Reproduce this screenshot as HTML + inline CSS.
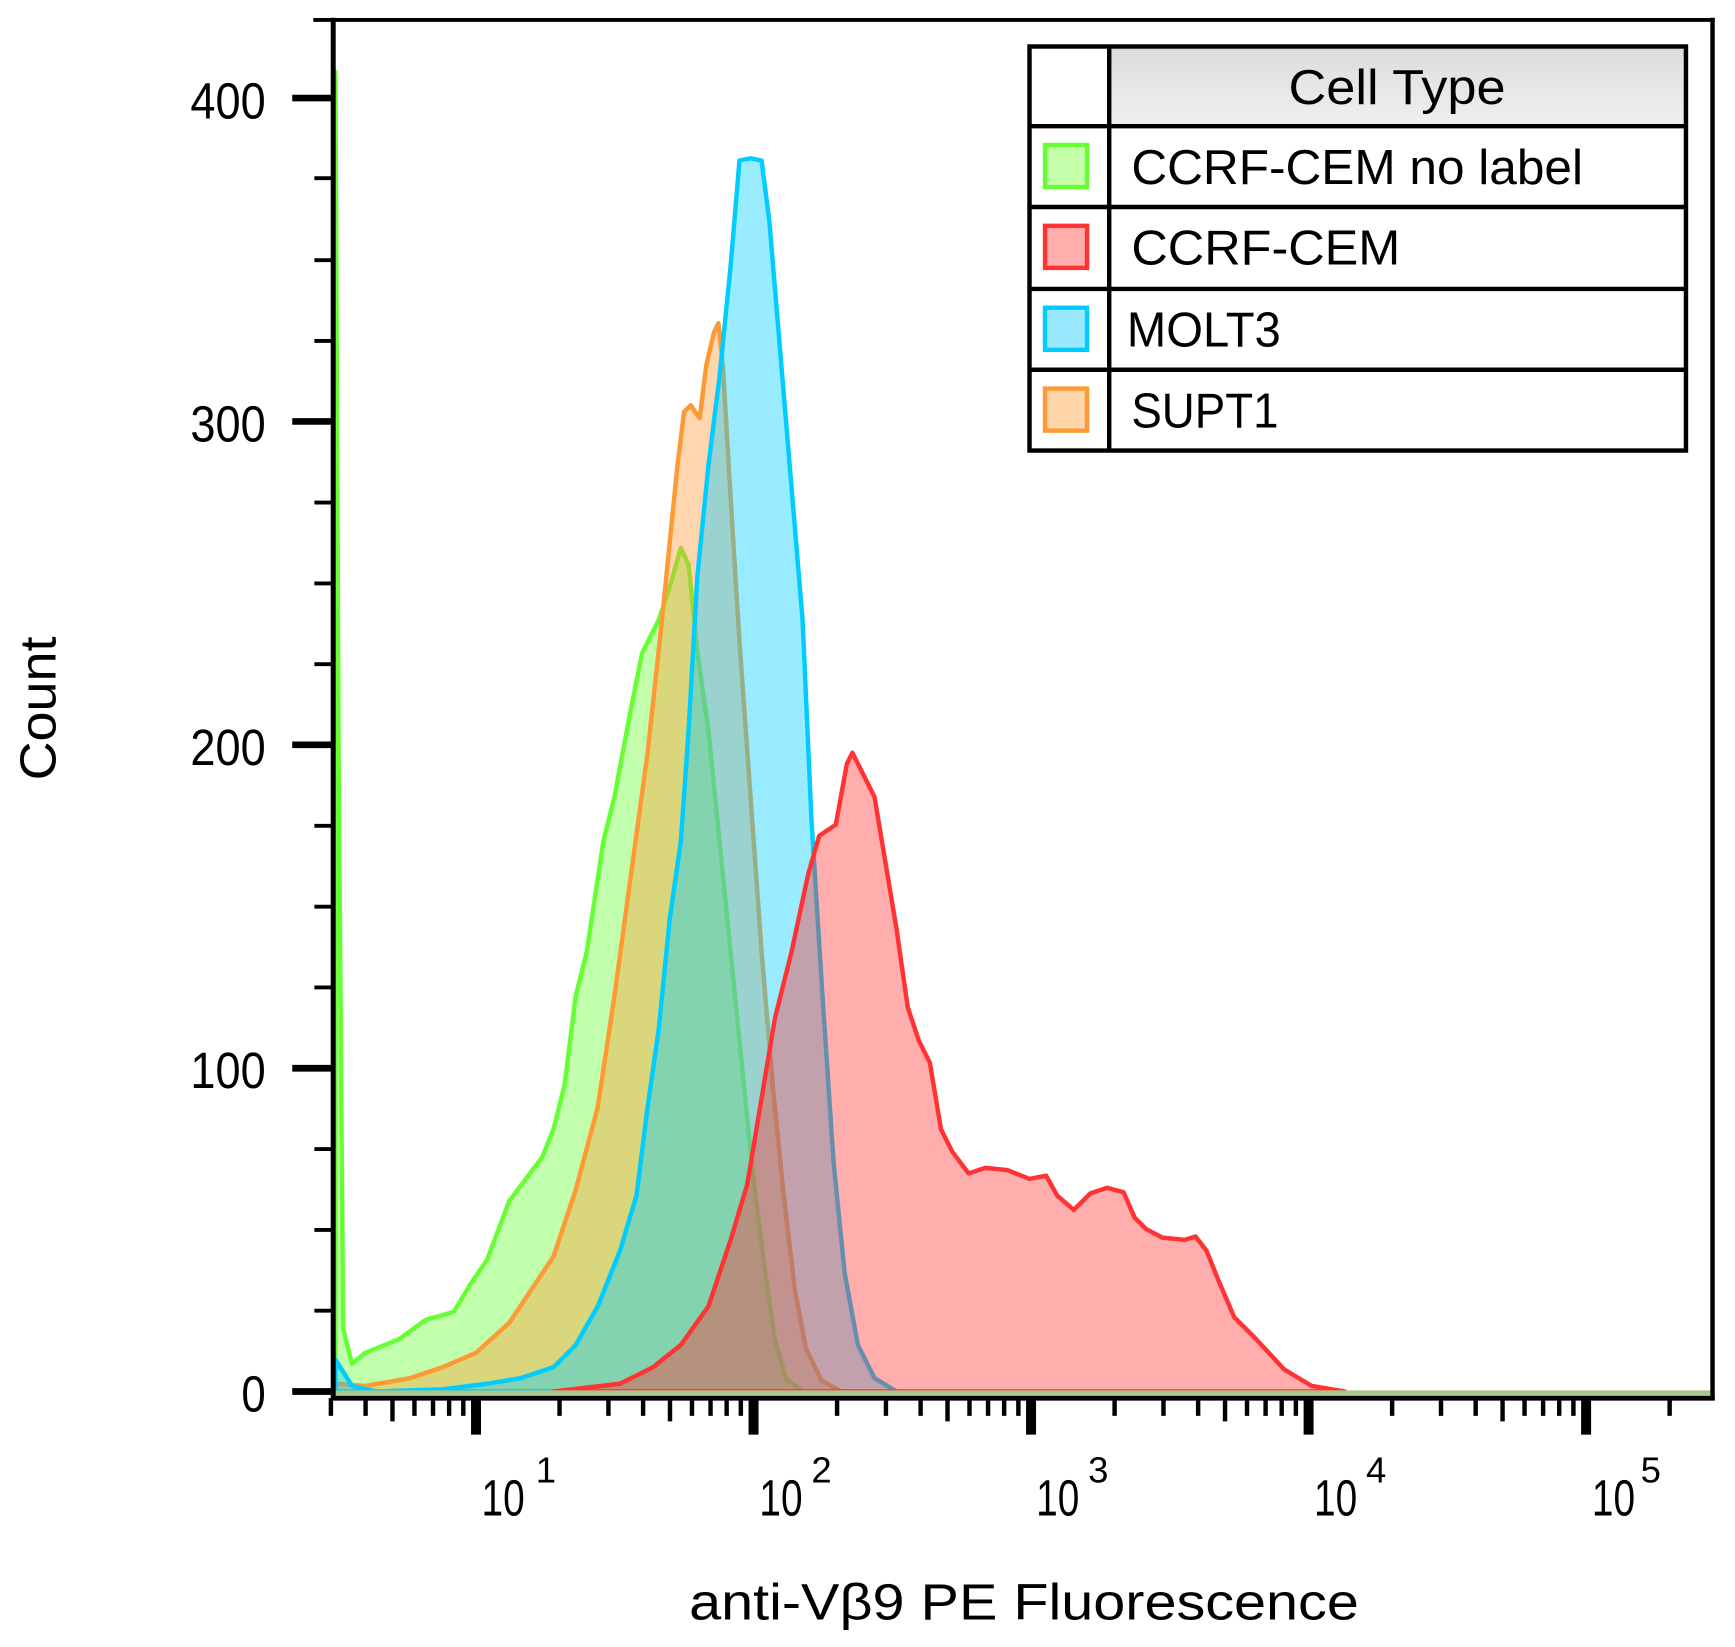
<!DOCTYPE html>
<html><head><meta charset="utf-8"><style>html,body{margin:0;padding:0;background:#fff;}svg{display:block;}</style></head>
<body>
<svg width="1735" height="1647" viewBox="0 0 1735 1647" xmlns="http://www.w3.org/2000/svg">
<g transform="scale(1.107)" font-family="Liberation Sans, Arial, sans-serif">
<!-- curves -->
<g stroke-width="4" stroke-linejoin="round">
<path fill="rgba(102,255,51,0.4)" stroke="#66ff33" d="M303,1257 L303,65 L306,700 L310,1200 L318,1232 L330,1222 L360,1210 L385,1192 L400,1188 L410,1185 L425,1160 L440,1138 L460,1085 L475,1065 L490,1045 L500,1020 L510,980 L520,900 L530,860 L545,760 L555,720 L570,640 L580,590 L595,560 L605,530 L615,495 L622,510 L630,590 L640,660 L650,760 L660,860 L670,960 L680,1060 L690,1140 L700,1210 L710,1245 L725,1257 Z"/>
<path fill="rgba(255,153,51,0.4)" stroke="#ff9933" d="M303,1257 L303,1250 L330,1252 L370,1245 L400,1235 L430,1222 L460,1195 L480,1165 L500,1135 L520,1075 L540,1000 L555,900 L570,790 L585,680 L598,560 L605,490 L612,420 L618,372 L624,366 L632,378 L638,330 L645,300 L649,292 L653,330 L660,450 L668,580 L678,720 L688,860 L698,980 L708,1080 L718,1165 L728,1218 L742,1247 L760,1257 Z"/>
<path fill="rgba(0,204,255,0.4)" stroke="#00ccff" d="M303,1257 L303,1228 L318,1252 L340,1257 L400,1255 L440,1250 L470,1245 L500,1235 L520,1215 L540,1180 L560,1130 L575,1080 L585,1000 L595,930 L605,830 L615,760 L622,660 L630,520 L640,420 L650,340 L660,240 L668,145 L678,143 L688,145 L695,200 L705,320 L715,440 L725,560 L733,740 L743,900 L753,1050 L763,1150 L775,1215 L790,1245 L810,1257 Z"/>
<path fill="rgba(255,51,51,0.4)" stroke="#ff3333" d="M500,1257 L560,1250 L590,1235 L615,1215 L640,1180 L660,1120 L675,1070 L690,980 L700,920 L715,860 L730,790 L740,755 L755,745 L765,690 L770,680 L780,700 L790,720 L800,780 L810,840 L820,910 L830,940 L840,960 L850,1020 L860,1040 L875,1060 L890,1055 L910,1057 L930,1065 L945,1062 L955,1080 L970,1093 L985,1078 L1000,1073 L1015,1077 L1025,1100 L1035,1110 L1050,1118 L1070,1120 L1080,1117 L1090,1130 L1100,1155 L1115,1190 L1135,1210 L1160,1237 L1185,1252 L1215,1257 Z"/>
</g>
<line x1="303" y1="1258" x2="1547" y2="1258" stroke="#a9c78a" stroke-width="4"/>
<!-- frame -->
<line x1="283" y1="18" x2="1549" y2="18" stroke="#000" stroke-width="3.5"/>
<line x1="1547" y1="16" x2="1547" y2="1265" stroke="#000" stroke-width="4"/>
<line x1="301" y1="16" x2="301" y2="1265" stroke="#000" stroke-width="4.5"/>
<line x1="299" y1="1263" x2="1549" y2="1263" stroke="#000" stroke-width="4.5"/>
<!-- y ticks -->
<g stroke="#000">
<g stroke-width="6">
<line x1="264" y1="1257" x2="301" y2="1257"/><line x1="264" y1="965" x2="301" y2="965"/><line x1="264" y1="672.8" x2="301" y2="672.8"/><line x1="264" y1="380.7" x2="301" y2="380.7"/><line x1="264" y1="88.6" x2="301" y2="88.6"/>
</g>
<g stroke-width="3.5">
<line x1="284" y1="1184" x2="301" y2="1184"/><line x1="284" y1="1111" x2="301" y2="1111"/><line x1="284" y1="1038" x2="301" y2="1038"/>
<line x1="284" y1="892" x2="301" y2="892"/><line x1="284" y1="819" x2="301" y2="819"/><line x1="284" y1="746" x2="301" y2="746"/>
<line x1="284" y1="600" x2="301" y2="600"/><line x1="284" y1="527" x2="301" y2="527"/><line x1="284" y1="454" x2="301" y2="454"/>
<line x1="284" y1="308" x2="301" y2="308"/><line x1="284" y1="235" x2="301" y2="235"/><line x1="284" y1="161" x2="301" y2="161"/>
</g>
</g>
<g font-size="46" fill="#000" text-anchor="end">
<text x="240" y="107" textLength="68" lengthAdjust="spacingAndGlyphs">400</text>
<text x="240" y="399" textLength="68" lengthAdjust="spacingAndGlyphs">300</text>
<text x="240" y="691" textLength="68" lengthAdjust="spacingAndGlyphs">200</text>
<text x="240" y="983" textLength="68" lengthAdjust="spacingAndGlyphs">100</text>
<text x="240" y="1275" textLength="22" lengthAdjust="spacingAndGlyphs">0</text>
</g>
<!-- x ticks -->
<g stroke="#000" id="xt"></g>
<g font-size="46" fill="#000">
<text x="435" y="1369" textLength="39" lengthAdjust="spacingAndGlyphs">10</text><text x="484" y="1339" font-size="33">1</text>
<text x="686" y="1369" textLength="39" lengthAdjust="spacingAndGlyphs">10</text><text x="733" y="1339" font-size="33">2</text>
<text x="936" y="1369" textLength="39" lengthAdjust="spacingAndGlyphs">10</text><text x="983" y="1339" font-size="33">3</text>
<text x="1187" y="1369" textLength="39" lengthAdjust="spacingAndGlyphs">10</text><text x="1234" y="1339" font-size="33">4</text>
<text x="1438" y="1369" textLength="39" lengthAdjust="spacingAndGlyphs">10</text><text x="1482" y="1339" font-size="33">5</text>
</g>
<text x="925" y="1463" font-size="46" text-anchor="middle" textLength="605" lengthAdjust="spacingAndGlyphs">anti-Vβ9 PE Fluorescence</text>
<text transform="translate(50,640) rotate(-90)" font-size="46" text-anchor="middle" textLength="130" lengthAdjust="spacingAndGlyphs">Count</text>
<!-- legend -->
<defs><linearGradient id="hg" x1="0" y1="0" x2="0" y2="1"><stop offset="0" stop-color="#dcdcdc"/><stop offset="1" stop-color="#f0f0f0"/></linearGradient></defs>
<rect x="930" y="42" width="593" height="365" fill="#fff"/>
<rect x="1002" y="42" width="521" height="72" fill="url(#hg)"/>
<g stroke="#000" stroke-width="4" fill="none">
<rect x="930" y="42" width="593" height="365"/>
<line x1="1002" y1="42" x2="1002" y2="407"/>
<line x1="930" y1="114" x2="1523" y2="114"/><line x1="930" y1="187" x2="1523" y2="187"/><line x1="930" y1="261" x2="1523" y2="261"/><line x1="930" y1="334" x2="1523" y2="334"/>
</g>
<g stroke-width="4">
<rect x="944" y="131" width="38" height="38" fill="#c4ffaa" stroke="#66ff33"/>
<rect x="944" y="204" width="38" height="38" fill="#ffadad" stroke="#ff3333"/>
<rect x="944" y="278" width="38" height="38" fill="#99e9ff" stroke="#00ccff"/>
<rect x="944" y="351" width="38" height="38" fill="#ffd5aa" stroke="#ff9933"/>
</g>
<g font-size="44" fill="#000">
<text x="1164" y="94" textLength="196" lengthAdjust="spacingAndGlyphs">Cell  Type</text>
<text x="1022" y="166" textLength="408" lengthAdjust="spacingAndGlyphs">CCRF-CEM no label</text>
<text x="1022" y="239" textLength="243" lengthAdjust="spacingAndGlyphs">CCRF-CEM</text>
<text x="1018" y="313" textLength="139" lengthAdjust="spacingAndGlyphs">MOLT3</text>
<text x="1022" y="386" textLength="133" lengthAdjust="spacingAndGlyphs">SUPT1</text>
</g>
</g>
<script>
(function(){
var g=document.getElementById('xt'),ns='http://www.w3.org/2000/svg',D=250.7,s='';
function pos(v){return 430+D*(Math.log10(v)-1);}
for(var e=0;e<=5;e++){for(var m=1;m<=9;m++){var v=m*Math.pow(10,e);if(v<3||v>2.8e5)continue;var x=pos(v);
var y2=m==1?1296:(m==5?1284:1279),w=m==1?9:4;
var l=document.createElementNS(ns,'line');l.setAttribute('x1',x);l.setAttribute('x2',x);l.setAttribute('y1',1263);l.setAttribute('y2',y2);l.setAttribute('stroke-width',w);g.appendChild(l);}}
})();
</script>
</svg>
</body></html>
